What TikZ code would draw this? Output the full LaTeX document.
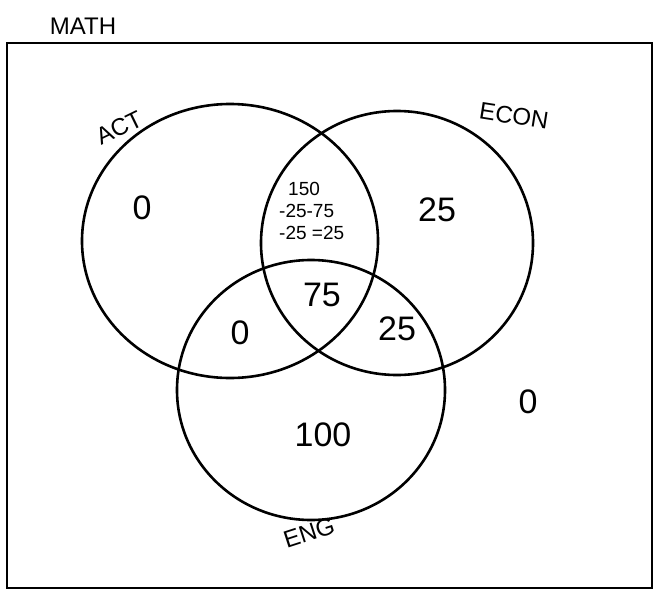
\documentclass[tikz,border=0pt]{standalone}
\usepackage{fontspec}
\setmainfont{Liberation Sans}
\begin{document}
\begin{tikzpicture}[x=1pt,y=-1pt,
  setline/.style={line width=2.6pt},
  frameline/.style={line width=2.2pt},
  lbl/.style={inner sep=0pt,font=\fontsize{24}{24}\selectfont},
  num/.style={inner sep=0pt,font=\fontsize{34}{34}\selectfont},
  small/.style={inner sep=0pt,align=left,font=\fontsize{19}{22}\selectfont}]
\useasboundingbox (0,0) rectangle (655,594);
% universe
\draw[frameline] (7,43) rectangle (652,588);
\node[lbl] (math) at (83,26) {MATH};
% sets
\draw[setline] (230,241) ellipse [x radius=148, y radius=137];
\draw[setline] (397,243) ellipse [x radius=136, y radius=132];
\draw[setline] (311,390) ellipse [x radius=134, y radius=130];
% set labels
\node[lbl,rotate=26] (act) at (119,128) {ACT};
\node[lbl,rotate=-9] (econ) at (514,116) {ECON};
\node[lbl,rotate=18] (eng) at (309,533) {ENG};
% region counts
\node[num] (aonly) at (142,208) {0};
\node[small,anchor=west] (ae) at (279,211) {\hspace{9pt}150\\-25-75\\-25 =25};
\node[num] (eonly) at (437,210) {25};
\node[num] (all) at (322,295) {75};
\node[num] (ag) at (240,333) {0};
\node[num] (eg) at (397,329) {25};
\node[num] (gonly) at (323,435) {100};
\node[num] (none) at (528,402) {0};
\end{tikzpicture}
\end{document}
